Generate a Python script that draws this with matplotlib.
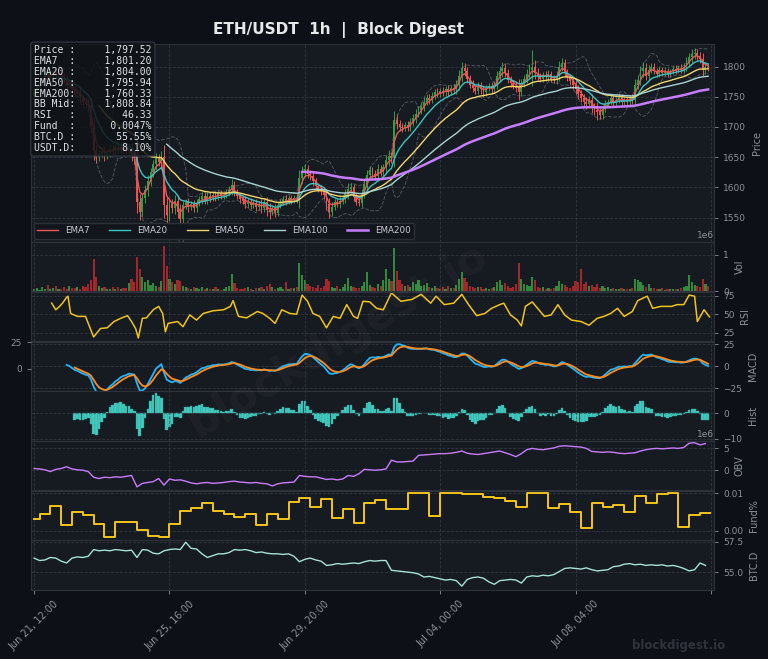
# -*- coding: utf-8 -*-
import numpy as np
import pandas as pd
import matplotlib
matplotlib.use("Agg")
import matplotlib.pyplot as plt
from matplotlib.ticker import FixedLocator, FuncFormatter, MultipleLocator

# ---- data ----
start_time = "2023-06-21 12:00"
n_hours = 500
bar_hours = 2          # each candle below stands for 2 hourly candles

first_open = 1752
close = [
    1758, 1766, 1772, 1780, 1786, 1782, 1788, 1792, 1786, 1790,
    1784, 1778, 1770, 1772, 1762, 1755, 1757, 1748, 1742, 1738,
    1736, 1702, 1660, 1650, 1656, 1660, 1652, 1658, 1664, 1660,
    1666, 1662, 1668, 1663, 1660, 1665, 1652, 1648, 1575, 1560,
    1582, 1596, 1610, 1625, 1638, 1648, 1642, 1650, 1570, 1555,
    1572, 1565, 1578, 1560, 1548, 1570, 1575, 1568, 1572, 1566,
    1574, 1580, 1585, 1578, 1586, 1582, 1588, 1584, 1590, 1586,
    1588, 1592, 1596, 1604, 1592, 1585, 1580, 1578, 1572, 1576,
    1570, 1574, 1568, 1572, 1566, 1575, 1562, 1560, 1565, 1558,
    1570, 1576, 1580, 1578, 1582, 1579, 1583, 1580, 1615, 1625,
    1630, 1622, 1618, 1610, 1603, 1598, 1594, 1588, 1572, 1560,
    1568, 1575, 1572, 1578, 1582, 1590, 1598, 1600, 1584, 1576,
    1574, 1590, 1605, 1620, 1628, 1622, 1618, 1630, 1625, 1633,
    1645, 1652, 1648, 1712, 1705, 1700, 1698, 1703, 1700, 1708,
    1715, 1722, 1728, 1735, 1742, 1748, 1745, 1752, 1758, 1755,
    1760, 1757, 1763, 1758, 1765, 1762, 1770, 1785, 1798, 1792,
    1780, 1770, 1765, 1760, 1768, 1762, 1758, 1764, 1768, 1762,
    1770, 1785, 1792, 1798, 1790, 1778, 1772, 1768, 1765, 1758,
    1772, 1780, 1788, 1795, 1800, 1790, 1784, 1780, 1786, 1782,
    1788, 1780, 1778, 1785, 1800, 1806, 1790, 1782, 1776, 1770,
    1762, 1755, 1748, 1742, 1738, 1745, 1732, 1728, 1725, 1720,
    1730, 1738, 1742, 1748, 1740, 1745, 1750, 1742, 1746, 1741,
    1748, 1744, 1770, 1778, 1792, 1798, 1785, 1795, 1800, 1792,
    1788, 1795, 1790, 1793, 1787, 1792, 1796, 1794, 1798, 1795,
    1800, 1808, 1815, 1820, 1822, 1818, 1812, 1795, 1800, 1797.52,
]
wick = [
    6, 5, 7, 4, 6, 8, 5, 6, 7, 5,
    6, 5, 8, 6, 7, 5, 6, 7, 5, 6,
    8, 12, 15, 10, 7, 6, 8, 5, 7, 6,
    6, 5, 7, 6, 5, 6, 8, 10, 18, 14,
    9, 8, 10, 7, 8, 9, 7, 10, 20, 16,
    10, 8, 9, 10, 12, 7, 6, 8, 6, 7,
    6, 5, 7, 5, 6, 7, 5, 6, 5, 6,
    5, 6, 7, 9, 6, 5, 6, 5, 7, 6,
    6, 5, 7, 6, 8, 6, 9, 12, 6, 7,
    6, 5, 6, 7, 5, 6, 5, 6, 14, 10,
    8, 7, 6, 7, 6, 5, 6, 7, 9, 10,
    7, 6, 5, 6, 6, 8, 9, 7, 6, 6,
    5, 7, 8, 9, 7, 6, 6, 8, 7, 6,
    8, 9, 7, 14, 9, 7, 6, 5, 6, 7,
    7, 8, 6, 7, 8, 6, 7, 6, 5, 6,
    5, 6, 5, 6, 5, 6, 7, 9, 10, 8,
    8, 6, 7, 5, 6, 7, 8, 6, 5, 6,
    6, 8, 9, 10, 7, 6, 6, 5, 7, 14,
    7, 6, 8, 9, 28, 10, 7, 6, 5, 6,
    6, 5, 6, 7, 9, 8, 7, 6, 6, 7,
    7, 8, 6, 7, 8, 6, 9, 8, 14, 7,
    7, 6, 5, 6, 7, 5, 6, 5, 6, 5,
    5, 6, 9, 8, 9, 10, 7, 8, 6, 5,
    5, 6, 5, 6, 5, 4, 5, 6, 5, 6,
    6, 7, 8, 9, 8, 7, 6, 10, 7, 5,
]
volume_k = [
    60, 90, 50, 120, 70, 180, 60, 90, 140, 80,
    70, 110, 60, 150, 90, 100, 130, 70, 160, 120,
    210, 300, 880, 400, 150, 90, 120, 80, 60, 110,
    70, 130, 60, 100, 90, 220, 350, 260, 950, 600,
    400, 250, 300, 180, 220, 150, 120, 280, 1250, 700,
    350, 250, 200, 300, 280, 150, 120, 100, 80, 110,
    90, 60, 120, 80, 100, 70, 60, 130, 80, 50,
    70, 110, 150, 480, 220, 100, 80, 60, 90, 120,
    70, 50, 90, 100, 130, 60, 150, 200, 110, 80,
    90, 120, 60, 250, 80, 100, 90, 120, 780, 450,
    300, 200, 150, 120, 100, 180, 90, 150, 350, 280,
    120, 90, 150, 80, 110, 200, 380, 150, 130, 100,
    90, 160, 250, 520, 180, 120, 100, 200, 150, 300,
    600, 350, 280, 1180, 550, 300, 200, 150, 180, 120,
    250, 200, 320, 150, 180, 220, 120, 100, 150, 90,
    80, 120, 70, 150, 100, 90, 180, 350, 520, 380,
    250, 150, 120, 90, 110, 130, 80, 100, 60, 90,
    110, 250, 300, 180, 220, 150, 100, 130, 200, 780,
    350, 200, 180, 150, 400, 300, 120, 90, 110, 80,
    100, 70, 90, 150, 280, 200, 180, 120, 100, 150,
    280, 250, 600, 200, 250, 150, 180, 120, 200, 100,
    150, 90, 120, 80, 100, 60, 70, 90, 60, 80,
    70, 90, 350, 300, 250, 180, 120, 200, 100, 90,
    80, 60, 90, 50, 70, 60, 80, 70, 60, 90,
    120, 150, 450, 250, 180, 150, 120, 350, 200, 150,
]
# RSI readings (hour, value)
rsi_hours = [
    13, 16, 19, 21, 24, 25, 27, 32, 38, 40, 44, 46, 49, 54, 59, 64, 69, 72, 75, 77,
    80, 83, 88, 92, 95, 97, 99, 106, 110, 115, 120, 125, 132, 140, 145, 147, 151, 157, 165, 169,
    174, 178, 183, 189, 194, 198, 202, 206, 211, 216, 221, 226, 231, 236, 239, 243, 248, 253, 258, 264,
    271, 279, 286, 293, 297, 303, 310, 316, 321, 327, 333, 338, 344, 347, 352, 357, 360, 363, 368, 372,
    377, 382, 387, 392, 397, 404, 410, 416, 421, 426, 431, 436, 442, 446, 453, 457, 463, 471, 475, 480,
    484, 488, 490, 495, 499,
]
rsi_vals = [
    65, 56, 61, 65, 73, 74.5, 51, 47, 47, 37.5, 19, 23.6, 30.5, 31.5, 40, 44.4, 48, 40, 30.5, 17.6,
    44.4, 45, 56, 60.6, 51, 26, 37.5, 40, 33, 49, 42, 51, 54.6, 56, 60.6, 68.5, 47, 45, 53.7, 51,
    44.4, 37.5, 56, 51, 50, 76, 67.6, 51, 47, 31.5, 47, 44.4, 63, 47, 44.4, 67.6, 66.7, 58, 56, 79,
    67.6, 70, 77, 65, 74.5, 63, 65, 77, 63, 48, 51, 58, 63, 65, 49, 42, 34, 60.6, 66.7, 58,
    47, 49, 63, 49, 42, 40, 35, 44.4, 47, 51, 58, 47, 53.7, 68.5, 74.5, 58, 60.6, 60.6, 63, 63,
    76, 74.5, 40, 56, 46.33,
]
# OBV (millions) and BTC dominance, one reading every 4 hours
obv_m = [
    0.4, 0.3, 0.1, -0.3, 0.2, 0.4, 0.8, 0.3, 0.1, 0.0,
    -0.3, -1.6, -1.9, -1.6, -1.7, -1.5, -1.6, -1.4, -1.2, -3.8,
    -3.0, -2.8, -2.6, -1.9, -3.4, -2.0, -2.3, -2.2, -2.5, -2.9,
    -3.1, -2.9, -2.8, -3.0, -2.9, -2.8, -2.6, -2.5, -2.7, -2.8,
    -2.9, -2.8, -3.0, -3.1, -3.6, -3.1, -2.9, -2.8, -2.7, -1.2,
    -1.4, -1.5, -1.5, -1.8, -2.1, -2.0, -2.2, -2.0, -1.2, -1.4,
    -0.8, 0.2, 0.1, 0.0, 0.1, 0.3, 2.3, 1.9, 1.9, 2.0,
    2.1, 3.4, 3.5, 3.6, 3.7, 3.8, 3.8, 3.9, 4.1, 4.4,
    3.9, 3.7, 3.6, 3.8, 4.0, 4.2, 4.4, 4.0, 3.6, 3.1,
    3.8, 4.7, 5.0, 4.8, 4.7, 4.9, 5.1, 5.5, 5.6, 5.5,
    5.4, 5.3, 5.0, 4.3, 4.2, 4.1, 4.2, 4.1, 3.9, 3.8,
    3.9, 4.0, 4.4, 4.7, 4.9, 5.0, 4.9, 5.0, 5.1, 5.0,
    5.2, 6.2, 6.3, 5.8, 6.1,
]
btc_dom = [
    56.15, 55.95, 56.0, 56.2, 56.15, 55.9, 55.75, 56.15, 56.25, 56.2,
    56.3, 56.85, 56.75, 56.8, 56.75, 56.85, 56.8, 56.75, 56.8, 56.2,
    56.85, 56.8, 56.55, 56.5, 56.75, 56.85, 56.9, 56.85, 57.45, 56.95,
    56.9, 56.5, 56.2, 56.35, 56.5, 56.5, 56.6, 56.85, 56.8, 56.85,
    56.75, 56.6, 56.65, 56.55, 56.5, 56.5, 56.45, 56.5, 56.3, 55.85,
    56.05, 56.15, 56.0, 55.9, 55.55, 55.6, 55.7, 55.65, 55.7, 55.75,
    55.7, 55.85, 55.95, 55.9, 55.95, 55.95, 55.15, 55.1, 55.05, 55.0,
    54.95, 54.85, 54.6, 54.65, 54.55, 54.45, 54.35, 54.4, 54.3, 53.85,
    54.4, 54.55, 54.6, 54.5, 54.2, 54.0, 54.3, 54.35, 54.4, 54.35,
    54.1, 54.6, 54.7, 54.65, 54.75, 54.7, 54.8, 55.05, 55.3, 55.35,
    55.3, 55.25, 55.35, 55.2, 55.1, 55.15, 55.2, 55.45, 55.5, 55.65,
    55.7, 55.6, 55.65, 55.55, 55.6, 55.55, 55.6, 55.5, 55.55, 55.45,
    55.3, 55.1, 55.2, 55.75, 55.55,
]
# funding rate (%) per 8h window, the first window is cut short
funding = [
    0.0031, 0.0044, 0.0067, 0.0016, 0.0050, 0.0042, 0.0018, -0.0018, 0.0024, 0.0024,
    0.0002, -0.0013, -0.0017, 0.0018, 0.0054, 0.0060, 0.0075, 0.0054, 0.0044, 0.0038,
    0.0045, 0.0014, 0.0045, 0.0031, 0.0076, 0.0087, 0.0063, 0.0085, 0.0035, 0.0057,
    0.0021, 0.0073, 0.0082, 0.0057, 0.0057, 0.0101, 0.0101, 0.0039, 0.0101, 0.0101,
    0.0098, 0.0097, 0.0090, 0.0087, 0.0079, 0.0063, 0.0101, 0.0101, 0.0060, 0.0071,
    0.0051, 0.0008, 0.0074, 0.0064, 0.0068, 0.0051, 0.0092, 0.0074, 0.0097, 0.0101,
    0.0010, 0.0042, 0.0047,
]
info_rows = [
    ("Price", "1,797.52"), ("EMA7", "1,801.20"), ("EMA20", "1,804.00"),
    ("EMA50", "1,795.94"), ("EMA200", "1,760.33"), ("BB Mid", "1,808.84"),
    ("RSI", "46.33"), ("Fund", "0.0047%"), ("BTC.D", "55.55%"), ("USDT.D", "8.10%"),
]
ema_periods = [7, 20, 50, 100, 200]
ema_colors = ["#e8575a", "#3cc3c0", "#f2d56b", "#a9d3d3", "#c77dff"]

# ---- colours ----
BG = "#0d1016"
PANEL = "#161a21"
GRID = "#3b414b"
TXT = "#8b919a"
UP, DOWN = "#2ea043", "#ef5350"

# ---- derived series ----
c = pd.Series(close, dtype=float)
o = c.shift(1)
o.iloc[0] = first_open
w = np.array(wick, dtype=float)
hi = np.maximum(o, c) + w
lo = np.minimum(o, c) - w
x = np.arange(len(c)) * bar_hours
up = (c >= o).values


def ema(s, n):
    return s.ewm(span=n / bar_hours, adjust=False, min_periods=n // bar_hours).mean()


bb_mid = c.rolling(20 // bar_hours).mean()
bb_sd = c.rolling(20 // bar_hours).std()

macd = c.ewm(span=12 / bar_hours, adjust=False).mean() - c.ewm(span=26 / bar_hours, adjust=False).mean()
macd[: 26 // bar_hours - 1] = np.nan
signal = macd.ewm(span=9 / bar_hours, adjust=False, min_periods=4).mean()
hist = macd - signal

x4 = np.arange(len(obv_m)) * 4
fund_x = [0] + list(range(4, n_hours, 8))
times = pd.date_range(start_time, periods=n_hours, freq="h")

# ---- figure ----
plt.rcParams["font.family"] = ["DejaVu Sans"]
fig = plt.figure(figsize=(7.68, 6.59), dpi=100, facecolor=BG)
gs = fig.add_gridspec(8, 1, height_ratios=[4, 1, 1, 1, 1, 1, 1, 1],
                      left=0.040, right=0.930, top=0.933, bottom=0.105, hspace=0.005)
ax0 = fig.add_subplot(gs[0])
axs = [ax0] + [fig.add_subplot(gs[i], sharex=ax0) for i in range(1, 8)]
ax_p, ax_v, ax_r, ax_m, ax_h, ax_o, ax_f, ax_b = axs

# left-hand scale drawn on the MACD panel
ax_ml = ax_m.twinx()
ax_ml.yaxis.tick_left()
ax_ml.set_ylim(-20.9, 25.7)
ax_ml.yaxis.set_major_locator(FixedLocator([0, 25]))
ax_ml.tick_params(colors=TXT, labelsize=6.5, length=3, width=0.6)
for sp in ax_ml.spines.values():
    sp.set_visible(False)

for ax in axs:
    ax.set_facecolor(PANEL)
    for sp in ax.spines.values():
        sp.set_color("#2c313a")
    ax.yaxis.tick_right()
    ax.yaxis.set_label_position("right")
    ax.tick_params(colors=TXT, labelsize=6.5, length=3, width=0.6)
    ax.grid(True, color=GRID, ls="--", lw=0.6, alpha=0.7)
    ax.yaxis.offsetText.set_color(TXT)
    ax.yaxis.offsetText.set_fontsize(6.5)
for ax in axs[:-1]:
    ax.tick_params(axis="x", labelbottom=False, length=0)

# price
ax_p.vlines(x, lo, hi, colors=np.where(up, UP, DOWN), lw=0.7, zorder=2)
ax_p.bar(x, np.maximum(np.abs(c - o), 0.6), bottom=np.minimum(o, c), width=1.4,
         color=np.where(up, UP, DOWN), zorder=3)
ax_p.plot(x, bb_mid + 2 * bb_sd, color="#7d838c", lw=0.7, ls="--", alpha=0.55, zorder=2)
ax_p.plot(x, bb_mid - 2 * bb_sd, color="#7d838c", lw=0.7, ls="--", alpha=0.55, zorder=2)
for n, col in zip(ema_periods, ema_colors):
    ax_p.plot(x, ema(c, n), color=col, lw=1.8 if n == 200 else 1.0, label=f"EMA{n}", zorder=4)
ax_p.set_ylim(1510, 1837)
ax_p.yaxis.set_major_locator(MultipleLocator(50))
ax_p.set_ylabel("Price", color=TXT, fontsize=7)
ax_p.legend(loc="lower left", ncol=5, fontsize=6.3, facecolor="#12161c", edgecolor="#2c313a",
            labelcolor="#c9ccd1", framealpha=0.95, borderaxespad=0.35,
            handlelength=2.4, handletextpad=0.8, columnspacing=2.2)

# volume
vol = np.array(volume_k) * 1e3
ax_v.bar(x, vol, width=1.6, color=np.where(up, "#2f8a3c", "#a3262a"))
ax_v.set_ylim(0, 1.35e6)
ax_v.yaxis.set_major_locator(FixedLocator([0, 1e6]))
ax_v.set_ylabel("Vol", color=TXT, fontsize=7)

# rsi
ax_r.plot(rsi_hours, rsi_vals, color="#f0c419", lw=1.1)
ax_r.set_ylim(13.3, 80.5)
ax_r.yaxis.set_major_locator(FixedLocator([25, 50, 75]))
ax_r.set_ylabel("RSI", color=TXT, fontsize=7)

# macd
ax_m.plot(x, macd, color="#1fb6ff", lw=1.3)
ax_m.plot(x, signal, color="#ff8c1a", lw=1.3)
ax_m.set_ylim(-28, 28.4)
ax_m.yaxis.set_major_locator(FixedLocator([-25, 0, 25]))
ax_m.set_ylabel("MACD", color=TXT, fontsize=7)

# histogram
ax_h.bar(x, hist, width=1.9, color="#48e0d2", alpha=0.9, edgecolor="#2f9e94", linewidth=0.3)
ax_h.set_ylim(-10.8, 8.6)
ax_h.yaxis.set_major_locator(FixedLocator([-10, 0]))
ax_h.set_ylabel("Hist", color=TXT, fontsize=7)

# obv
ax_o.plot(x4, np.array(obv_m) * 1e6, color="#c77dff", lw=1.0)
ax_o.set_ylim(-4.6e6, 6.7e6)
ax_o.yaxis.set_major_locator(FixedLocator([0, 5e6]))
ax_o.set_ylabel("OBV", color=TXT, fontsize=7)

# funding
ax_f.step(fund_x + [n_hours - 1], funding + [funding[-1]], where="post", color="#f5c518", lw=1.4)
ax_f.set_ylim(-0.0025, 0.0107)
ax_f.yaxis.set_major_locator(FixedLocator([0, 0.01]))
ax_f.yaxis.set_major_formatter(FuncFormatter(lambda v, p: f"{v:.2f}"))
ax_f.set_ylabel("Fund%", color=TXT, fontsize=7)

# btc dominance
ax_b.plot(x4, btc_dom, color="#a8e0d8", lw=1.0)
ax_b.set_ylim(53.55, 57.6)
ax_b.yaxis.set_major_locator(FixedLocator([55.0, 57.5]))
ax_b.yaxis.set_major_formatter(FuncFormatter(lambda v, p: f"{v:.1f}"))
ax_b.set_ylabel("BTC.D", color=TXT, fontsize=7)

# time axis
ax_b.set_xlim(-2.5, 502.5)
ax_b.xaxis.set_major_locator(MultipleLocator(100))
ax_b.xaxis.set_major_formatter(FuncFormatter(
    lambda v, p: times[int(round(v))].strftime("%b %d, %H:%M") if 0 <= round(v) < n_hours else ""))
plt.setp(ax_b.get_xticklabels(), rotation=45, fontsize=7)

# title, info box, watermarks
fig.text(0.441, 0.954, "ETH/USDT  1h  |  Block Digest", ha="center", va="center",
         fontsize=11, fontweight="bold", color="#e6e8eb")
info = "\n".join(f"{k:<6}:{v:>13}" for k, v in info_rows)
fig.text(0.0443, 0.931, info, ha="left", va="top", family="DejaVu Sans Mono", fontsize=7,
         color="#dfe2e6", linespacing=1.1, zorder=10,
         bbox=dict(boxstyle="round,pad=0.35", facecolor="#101318", edgecolor="#333842", alpha=0.85))
fig.text(0.44, 0.484, "blockdigest.io", rotation=31, ha="center", va="center",
         fontsize=31, fontweight="bold", color="white", alpha=0.035)
fig.text(0.883, 0.021, "blockdigest.io", ha="center", va="center",
         fontsize=8.5, fontweight="bold", color="#2e333c")

fig.savefig("out.png", dpi=100, facecolor=BG)
